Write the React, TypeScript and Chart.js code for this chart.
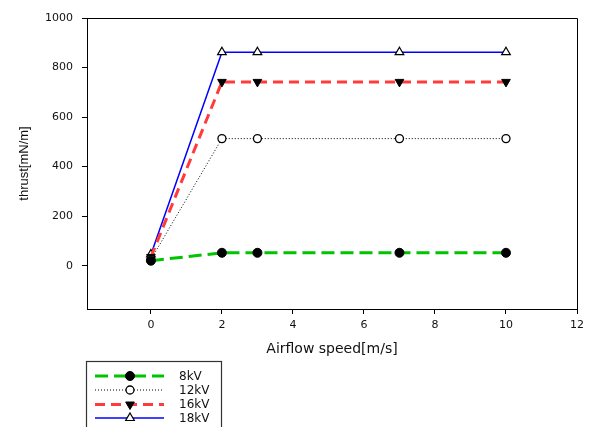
import React, { useEffect, useRef } from 'react';
import { Chart, registerables } from 'chart.js';

Chart.register(...registerables);

const speeds = [0, 2, 3, 7, 10];
const thrust8kV = [20, 52, 52, 52, 52];
const thrust12kV = [25, 513, 513, 513, 513];
const thrust16kV = [35, 742, 742, 742, 742];
const thrust18kV = [45, 862, 862, 862, 862];
const seriesLabels = ['8kV', '12kV', '16kV', '18kV'];
const xTicks = [0, 2, 4, 6, 8, 10, 12];
const yTicks = [0, 200, 400, 600, 800, 1000];

const xTitle = 'Airflow speed[m/s]';
const yTitle = 'thrust[mN/m]';

type MarkerKind = 'circleFilled' | 'circleOpen' | 'triDownFilled' | 'triUpOpen';

const styles = [
  { color: '#00c400', width: 3, dash: [13, 6], marker: 'circleFilled' as MarkerKind },
  { color: '#000000', width: 1, dash: [1, 2], marker: 'circleOpen' as MarkerKind },
  { color: '#ff3b3b', width: 3, dash: [10, 6], marker: 'triDownFilled' as MarkerKind },
  { color: '#0000ff', width: 1.5, dash: [] as number[], marker: 'triUpOpen' as MarkerKind },
];

function pointProps(kind: MarkerKind) {
  switch (kind) {
    case 'circleFilled':
      return { pointStyle: 'circle', pointRadius: 4.5, pointRotation: 0, pointBackgroundColor: '#000', pointBorderColor: '#000', pointBorderWidth: 1 };
    case 'circleOpen':
      return { pointStyle: 'circle', pointRadius: 4, pointRotation: 0, pointBackgroundColor: '#fff', pointBorderColor: '#000', pointBorderWidth: 1.3 };
    case 'triDownFilled':
      return { pointStyle: 'triangle', pointRadius: 5, pointRotation: 180, pointBackgroundColor: '#000', pointBorderColor: '#000', pointBorderWidth: 1 };
    default:
      return { pointStyle: 'triangle', pointRadius: 5, pointRotation: 0, pointBackgroundColor: '#fff', pointBorderColor: '#000', pointBorderWidth: 1.2 };
  }
}

function drawMarker(ctx: CanvasRenderingContext2D, kind: MarkerKind, x: number, y: number) {
  const p = pointProps(kind);
  ctx.save();
  ctx.setLineDash([]);
  ctx.fillStyle = p.pointBackgroundColor;
  ctx.strokeStyle = p.pointBorderColor;
  ctx.lineWidth = p.pointBorderWidth;
  ctx.beginPath();
  if (p.pointStyle === 'circle') {
    ctx.arc(x, y, p.pointRadius, 0, Math.PI * 2);
  } else {
    let rad = (p.pointRotation * Math.PI) / 180;
    const r = p.pointRadius;
    for (let i = 0; i < 3; i++) {
      const px = x + Math.sin(rad) * r;
      const py = y - Math.cos(rad) * r;
      if (i === 0) ctx.moveTo(px, py);
      else ctx.lineTo(px, py);
      rad += (2 * Math.PI) / 3;
    }
    ctx.closePath();
  }
  ctx.fill();
  ctx.stroke();
  ctx.restore();
}

const framePlugin = {
  id: 'frameAndLegend',
  beforeDraw(chart: any) {
    const ctx = chart.ctx as CanvasRenderingContext2D;
    ctx.save();
    ctx.fillStyle = '#ffffff';
    ctx.fillRect(0, 0, chart.width, chart.height);
    ctx.restore();
  },
  afterDraw(chart: any) {
    const ctx = chart.ctx as CanvasRenderingContext2D;
    const a = chart.chartArea;
    ctx.save();
    ctx.strokeStyle = '#000';
    ctx.lineWidth = 1;
    ctx.beginPath();
    ctx.moveTo(Math.round(a.left) + 0.5, Math.round(a.top) + 0.5);
    ctx.lineTo(Math.round(a.right) + 0.5, Math.round(a.top) + 0.5);
    ctx.lineTo(Math.round(a.right) + 0.5, Math.round(a.bottom) + 0.5);
    ctx.stroke();

    // legend box
    const bx = 86.5;
    const by = 361.5;
    ctx.strokeStyle = '#333';
    ctx.lineWidth = 1.2;
    ctx.strokeRect(bx, by, 135, 80);
    const rowsY = [376, 390, 404.5, 418];
    ctx.font = '12px "DejaVu Sans"';
    ctx.textBaseline = 'middle';
    ctx.textAlign = 'left';
    seriesLabels.forEach((lab, i) => {
      const s = styles[i];
      const y = rowsY[i];
      ctx.save();
      ctx.strokeStyle = s.color;
      ctx.lineWidth = s.width;
      ctx.setLineDash(s.dash);
      ctx.beginPath();
      ctx.moveTo(95, y);
      ctx.lineTo(164, y);
      ctx.stroke();
      ctx.restore();
      drawMarker(ctx, s.marker, 130, y);
      ctx.fillStyle = '#111';
      ctx.fillText(lab, 179, y + 0.5);
    });
    ctx.restore();
  },
};

export default function App() {
  const ref = useRef<HTMLCanvasElement | null>(null);

  useEffect(() => {
    if (!ref.current) return;
    const seriesValues = [thrust8kV, thrust12kV, thrust16kV, thrust18kV];
    const datasets = seriesLabels.map((label, i) => ({
      label,
      data: speeds.map((x, j) => ({ x, y: seriesValues[i][j] })),
      borderColor: styles[i].color,
      borderWidth: styles[i].width,
      borderDash: styles[i].dash,
      backgroundColor: styles[i].color,
      fill: false,
      tension: 0,
      ...pointProps(styles[i].marker),
    }));

    const chart = new Chart(ref.current, {
      type: 'line',
      data: { datasets: datasets as any },
      options: {
        animation: false,
        responsive: false,
        maintainAspectRatio: false,
        layout: { padding: { top: 18, right: 12, left: 0, bottom: 67 } },
        plugins: {
          legend: { display: false },
          tooltip: { enabled: false },
        },
        scales: {
          x: {
            type: 'linear',
            min: -1.8,
            max: 12,
            afterFit: (scale: any) => {
              scale.height = 51;
            },
            afterBuildTicks: (scale: any) => {
              scale.ticks = xTicks.map((v) => ({ value: v }));
            },
            grid: {
              display: true,
              drawOnChartArea: false,
              drawTicks: true,
              tickLength: 5,
              color: '#000',
            },
            border: { display: true, color: '#000', width: 1 },
            ticks: {
              color: '#111',
              padding: 5,
              maxRotation: 0,
              autoSkip: false,
              callback: (v: any) => String(v),
              font: { family: '"DejaVu Sans"', size: 11 },
            },
            title: {
              display: true,
              text: xTitle,
              color: '#111',
              font: { family: '"DejaVu Sans"', size: 14 },
              padding: { top: 0, bottom: 2 },
            },
          },
          y: {
            type: 'linear',
            min: -175,
            max: 1000,
            afterFit: (scale: any) => {
              scale.width = 87;
            },
            afterBuildTicks: (scale: any) => {
              scale.ticks = yTicks.map((v) => ({ value: v }));
            },
            grid: {
              display: true,
              drawOnChartArea: false,
              drawTicks: true,
              tickLength: 5,
              color: '#000',
            },
            border: { display: true, color: '#000', width: 1 },
            ticks: {
              color: '#111',
              padding: 9,
              autoSkip: false,
              callback: (v: any) => String(v),
              font: { family: '"DejaVu Sans"', size: 11 },
            },
            title: {
              display: true,
              text: yTitle,
              color: '#111',
              font: { family: '"Liberation Sans"', size: 13 },
              padding: { top: 17, bottom: 0 },
            },
          },
        },
      } as any,
      plugins: [framePlugin],
    });

    return () => chart.destroy();
  }, []);

  return (
    <div style={{ position: 'fixed', left: 0, top: 0, width: 589, height: 427, background: '#fff' }}>
      <canvas ref={ref} width={589} height={427} style={{ display: 'block' }} />
    </div>
  );
}
